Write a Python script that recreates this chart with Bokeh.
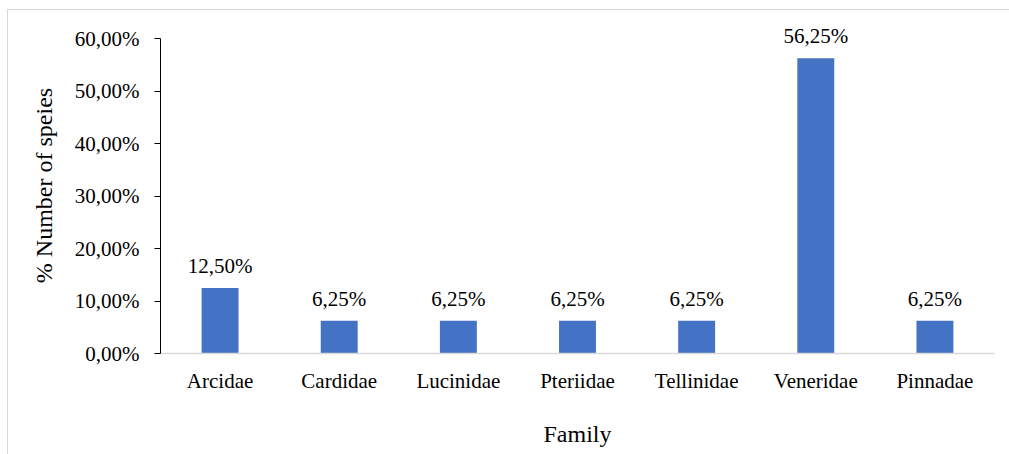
from bokeh.plotting import figure
from bokeh.models import ColumnDataSource, CustomJSTickFormatter, FixedTicker, Range1d, LabelSet
from bokeh.embed import file_html
from bokeh.resources import INLINE

families = ["Arcidae", "Cardidae", "Lucinidae", "Pteriidae", "Tellinidae", "Veneridae", "Pinnadae"]
percent = [12.50, 6.25, 6.25, 6.25, 6.25, 56.25, 6.25]
labels = ["12,50%", "6,25%", "6,25%", "6,25%", "6,25%", "56,25%", "6,25%"]
y_ticks = [0, 10, 20, 30, 40, 50, 60]

src = ColumnDataSource(dict(x=families, top=percent, label=labels))

FONT = "Liberation Serif"

p = figure(x_range=families, y_range=Range1d(0, 64), width=1002, height=445,
           output_backend="svg", toolbar_location=None,
           min_border_left=153, min_border_right=15, min_border_top=8, min_border_bottom=101,
           margin=(9, 0, 0, 7),
           styles={"box-shadow": "inset 1px 1px 0 #d9d9d9"})
p.border_fill_color = None
p.background_fill_color = None
p.outline_line_color = None
p.grid.grid_line_color = None

p.vbar(x="x", top="top", width=0.31, source=src, fill_color="#4472C4", line_color=None)
p.add_layout(LabelSet(x="x", y="top", text="label", source=src, text_align="center",
                      text_baseline="bottom", y_offset=10, text_font_size="21px",
                      text_font=FONT, text_color="#000000"))

p.yaxis.ticker = FixedTicker(ticks=y_ticks)
p.yaxis.bounds = (0, 60)
p.yaxis.formatter = CustomJSTickFormatter(code="return tick.toFixed(2).replace('.', ',') + '%';")
p.yaxis.axis_line_color = "black"
p.yaxis.major_tick_line_color = "black"
p.yaxis.major_tick_out = 6
p.yaxis.major_tick_in = 0
p.yaxis.minor_tick_line_color = None
p.yaxis.major_label_standoff = 15
p.yaxis.axis_label = "% Number of speies"
p.yaxis.axis_label_standoff = 15

p.xaxis.axis_line_color = "#d9d9d9"
p.xaxis.axis_line_width = 1.5
p.xaxis.major_tick_line_color = None
p.xaxis.minor_tick_line_color = None
p.xaxis.major_label_standoff = 9
p.xaxis.axis_label = "Family"
p.xaxis.axis_label_standoff = 25

for ax in [p.xaxis[0], p.yaxis[0]]:
    ax.major_label_text_font = FONT
    ax.major_label_text_font_size = "21px"
    ax.major_label_text_color = "#000000"
    ax.axis_label_text_font = FONT
    ax.axis_label_text_font_size = "24px"
    ax.axis_label_text_font_style = "normal"
    ax.axis_label_text_color = "#000000"

open("out.html", "w").write(file_html(p, INLINE))
